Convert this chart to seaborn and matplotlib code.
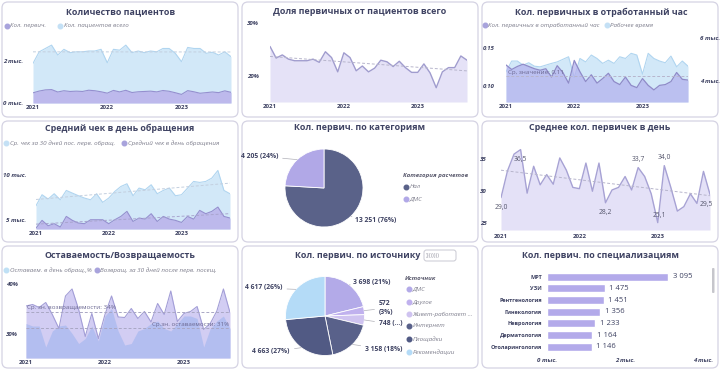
import matplotlib
matplotlib.use("Agg")
import matplotlib.pyplot as plt
import seaborn as sns
import numpy as np
from matplotlib.patches import FancyBboxPatch
from matplotlib.transforms import IdentityTransform
from matplotlib.lines import Line2D

# === Data ===
years = ["2021", "2022", "2023"]

# Количество пациентов
patients_total = [1890, 2440, 2600, 2760, 2290, 2560, 2400, 2440, 2440, 2480, 2480, 2560,
                  1920, 2560, 2520, 2760, 2400, 2480, 2400, 2480, 2440, 2600, 2600, 2370,
                  1970, 2650, 2600, 2600, 2370, 2420, 2290, 2440, 2210]
patients_first = [485, 570, 625, 640, 525, 585, 550, 565, 550, 610, 585, 535,
                  470, 600, 530, 605, 500, 535, 550, 565, 530, 595, 560, 490,
                  410, 590, 535, 465, 495, 525, 495, 580, 510]

# Доля первичных, %
first_share = [25.6, 23.4, 24.0, 23.2, 22.9, 22.9, 22.9, 23.2, 22.6, 24.6, 23.5, 20.8,
               24.4, 23.5, 21.0, 21.9, 20.8, 21.5, 23.0, 22.7, 21.8, 22.8, 21.6, 20.7,
               20.7, 22.3, 20.6, 17.8, 20.8, 21.6, 21.6, 23.8, 23.0]

# Кол. первичных в отработанный час / рабочее время
first_per_hour = [0.128, 0.122, 0.126, 0.129, 0.126, 0.123, 0.121, 0.123, 0.112, 0.127, 0.118, 0.104,
                  0.134, 0.119, 0.106, 0.115, 0.104, 0.110, 0.117, 0.106, 0.102, 0.112, 0.101, 0.098,
                  0.110, 0.101, 0.095, 0.101, 0.102, 0.106, 0.118, 0.109, 0.108]
work_hours = [4440, 4940, 4940, 4750, 4860, 4700, 4670, 4750, 4830, 4900, 5020, 5140,
              4170, 5060, 4900, 5220, 5060, 4830, 4980, 4830, 5140, 5060, 5300, 5220,
              4330, 5300, 5060, 4940, 4860, 5170, 4670, 4940, 4700]

# Средний чек
check_30d = [6560, 7780, 7300, 7890, 7220, 8260, 7960, 7670, 7410, 7220, 7890, 6930,
             7410, 8150, 8700, 9000, 7670, 8520, 8330, 8890, 7890, 8260, 8520, 7670,
             7780, 8520, 9260, 9150, 9260, 9630, 10480, 8260, 7890]
check_day = [4070, 4930, 4330, 4560, 4190, 5370, 4930, 4630, 4560, 5000, 5000, 5000,
             4560, 5000, 5370, 5930, 4810, 5190, 5070, 5670, 4810, 5370, 5070, 4930,
             4700, 5370, 5070, 6040, 5670, 5930, 6410, 5370, 5190]

# Среднее кол. первичек в день
first_per_day = [29.0, 33.2, 35.8, 36.5, 29.7, 33.9, 31.0, 32.6, 31.1, 35.2, 33.3, 30.6,
                 30.4, 34.4, 30.0, 34.4, 28.2, 30.2, 30.6, 32.3, 30.2, 33.7, 32.3, 29.6,
                 25.1, 34.0, 30.6, 26.9, 27.6, 29.6, 28.1, 33.1, 29.5]
labelled_days = [0, 3, 16, 21, 24, 25, 32]

# Оставаемость / Возвращаемость, %
return_30d = [35.5, 35.8, 35.2, 36.2, 33.8, 31.0, 37.5, 38.9, 34.8, 29.4, 34.0, 29.0,
              33.8, 37.5, 33.3, 33.2, 35.0, 33.0, 34.4, 32.3, 36.0, 33.8, 38.5, 32.4,
              34.0, 34.4, 35.4, 30.8, 32.0, 34.5, 38.9, 34.2]
stay_day = [32.0, 31.5, 31.5, 27.3, 30.5, 31.5, 31.7, 30.0, 28.0, 29.0, 31.5, 28.5,
            33.5, 35.0, 30.5, 27.7, 28.0, 30.5, 31.0, 32.0, 32.5, 31.0, 30.5, 32.0,
            33.5, 33.5, 33.0, 27.3, 31.0, 32.5, 33.5, 31.0]

# Кол. первич. по категориям
pay_labels = ["Нал", "ДМС"]
pay_values = [13251, 4205]

# Кол. первич. по источнику
source_labels = ["ДМС", "Другое", "Живет-работает ...", "Интернет", "Площадки", "Рекомендации"]
source_values = [3698, 572, 748, 3158, 4663, 4617]

# Кол. первич. по специализациям
spec_labels = ["МРТ", "УЗИ", "Рентгенология", "Гинекология", "Неврология", "Дерматология",
               "Отоларингология"]
spec_values = [3095, 1475, 1451, 1356, 1233, 1164, 1146]

# === Style ===
sns.set_theme(style="white")
plt.rcParams["font.family"] = ["Open Sans", "DejaVu Sans"]

TITLE = "#3e4262"
TICK = "#3e4262"
LEG = "#7d7d8c"
BORDER = "#d5d3e3"
BLUE_FILL, BLUE_LINE = "#d2e8f8", "#b0d5f0"
PURP_FILL, PURP_LINE = "#bdb9ec", "#958fcf"
DARK = "#5a6289"
LAV = "#b1a8e7"
LBLUE = "#b4dbf7"
TREND = "#b7b5cc"
TS = 4.4   # tick label size
LS = 4.5   # legend text size

W, H = 720, 370
fig = plt.figure(figsize=(7.2, 3.7), dpi=100)
fig.patch.set_facecolor("white")


def ax_px(x0, y0, x1, y1):
    ax = fig.add_axes([x0 / W, 1 - y1 / H, (x1 - x0) / W, (y1 - y0) / H])
    ax.set_facecolor("none")
    return ax


def panel(x0, y0, x1, y1, title, tx=None, ty=10):
    box = FancyBboxPatch((x0, H - y1), x1 - x0, y1 - y0,
                         boxstyle="round,pad=0,rounding_size=6",
                         transform=IdentityTransform(), fc="white", ec=BORDER, lw=0.9, zorder=-5)
    fig.patches.append(box)
    cx = (x0 + x1) / 2 if tx is None else tx
    fig.text(cx / W, 1 - (y0 + ty) / H, title, ha="center", va="center",
             fontsize=6.4, fontweight="bold", color=TITLE)


def dot_label(x, y, color, text, size=LS):
    fig.add_artist(Line2D([x / W], [1 - y / H], marker="o", ms=3.3, color=color, ls="",
                          transform=fig.transFigure))
    fig.text((x + 3.5) / W, 1 - y / H, text, ha="left", va="center", fontsize=size,
             style="italic", color=LEG)


def style_ts(ax, n, yticks, ylabels, pad_y=7, pad_x=1.5):
    sns.despine(ax=ax, left=True, bottom=True)
    ax.set_xlim(0, n - 1)
    ax.set_xticks([0, 12, 24])
    ax.set_xticklabels(years, fontweight="bold")
    ax.set_yticks(yticks)
    ax.set_yticklabels(ylabels, fontweight="bold", style="italic")
    ax.tick_params(axis="x", length=0, labelsize=TS, pad=pad_x, colors=TICK)
    ax.tick_params(axis="y", length=0, labelsize=TS, pad=pad_y, colors=TICK)
    ax.set_xlabel("")
    ax.set_ylabel("")
    ax.grid(False)


def area(ax, y, fill, line, lw=0.8, bottom=None, alpha=1.0):
    x = np.arange(len(y))
    b = ax.get_ylim()[0] if bottom is None else bottom
    ax.fill_between(x, y, b, color=fill, alpha=alpha, lw=0)
    sns.lineplot(x=x, y=y, ax=ax, color=line, lw=lw)


def trend(ax, y, color=TREND):
    x = np.arange(len(y))
    sns.regplot(x=x, y=np.array(y, dtype=float), ax=ax, scatter=False, ci=None, truncate=True,
                line_kws=dict(ls=(0, (3, 2)), lw=0.7, color=color))


# === Panel frames ===
panel(2, 2, 238, 117, "Количество пациентов", tx=121)
panel(242, 2, 478, 117, "Доля первичных от пациентов всего", tx=360)
panel(482, 2, 718, 117, "Кол. первичных в отработанный час", tx=601)
panel(2, 121, 238, 242, "Средний чек в день обращения", tx=120, ty=7)
panel(242, 121, 478, 242, "Кол. первич. по категориям", tx=360, ty=7)
panel(482, 121, 718, 242, "Среднее кол. первичек в день", tx=600, ty=7)
panel(2, 246, 238, 368, "Оставаемость/Возвращаемость", tx=120, ty=9)
panel(242, 246, 478, 368, "Кол. первич. по источнику", tx=358, ty=9)
panel(482, 246, 718, 368, "Кол. первич. по специализациям", tx=600, ty=9)

# === 1. Количество пациентов ===
ax1 = ax_px(33, 38, 231, 103)
ax1.set_ylim(0, 3100)
area(ax1, patients_total, BLUE_FILL, BLUE_LINE, bottom=0)
trend(ax1, patients_total, color="#c3cfdf")
area(ax1, patients_first, PURP_FILL, PURP_LINE, bottom=0)
ax1.set_ylim(0, 3100)
style_ts(ax1, len(patients_total), [0, 2000], ["0 тыс.", "2 тыс."], pad_y=7)
dot_label(7, 26, "#a8a3dc", "Кол. первич.")
dot_label(60, 26, "#c4e0f5", "Кол. пациентов всего")

# === 2. Доля первичных ===
ax2 = ax_px(270, 20, 467, 102)
ax2.set_ylim(15.1, 30.6)
area(ax2, first_share, "#e5e2f7", "#a09cce", lw=1.0)
trend(ax2, first_share)
ax2.set_ylim(15.1, 30.6)
style_ts(ax2, len(first_share), [20, 30], ["20%", "30%"], pad_y=8)

# === 3. Кол. первичных в отработанный час ===
ax3 = ax_px(506, 35, 688, 102)
ax3.set_ylim(3030, 6155)
area(ax3, work_hours, BLUE_FILL, BLUE_LINE)
ax3.set_ylim(3030, 6155)
ax3b = ax3.twinx()
ax3b.set_facecolor("none")
ax3b.set_ylim(0.079, 0.1676)
area(ax3b, first_per_hour, "#b4b3ee", "#8f8ac8", lw=0.9, alpha=0.75)
mean_fph = np.mean(first_per_hour)
ax3b.axhline(mean_fph, color=TREND, ls=(0, (3, 2)), lw=0.7)
ax3b.text(0.3, mean_fph + 0.002, f"Ср. значение: {mean_fph:.2f}".replace(".", ","),
          fontsize=LS, color="#6b6892", va="bottom", ha="left")
ax3b.set_ylim(0.079, 0.1676)
style_ts(ax3b, len(first_per_hour), [0.10, 0.15], ["0,10", "0,15"], pad_y=8)
ax3b.yaxis.tick_left()
ax3b.tick_params(axis="x", labelbottom=False)
style_ts(ax3, len(work_hours), [4000, 6000], ["4 тыс.", "6 тыс."], pad_y=9)
ax3.yaxis.tick_right()
ax3.tick_params(axis="y", length=0, pad=9)
dot_label(485, 25, "#a8a3dc", "Кол. первичных в отработанный час")
dot_label(607, 25, "#c4e0f5", "Рабочее время")

# === 4. Средний чек ===
ax4 = ax_px(36, 155, 230, 229)
ax4.set_ylim(3970, 12200)
area(ax4, check_30d, BLUE_FILL, BLUE_LINE)
trend(ax4, check_30d, color="#c3cfdf")
area(ax4, check_day, PURP_FILL, PURP_LINE)
trend(ax4, check_day, color="#a9a5cf")
ax4.set_ylim(3970, 12200)
style_ts(ax4, len(check_30d), [5000, 10000], ["5 тыс.", "10 тыс."], pad_y=7)
dot_label(6, 143, "#c4e0f5", "Ср. чек за 30 дней пос. перв. обращ.")
dot_label(124, 143, "#a8a3dc", "Средний чек в день обращения")

# === 5. Кол. первич. по категориям ===
ax5 = ax_px(285, 149, 363, 227)
w5, _ = ax5.pie(pay_values, colors=[DARK, LAV], startangle=90, counterclock=False,
                wedgeprops=dict(edgecolor="white", linewidth=0.6))
ax5.set_xlim(-1, 1)
ax5.set_ylim(-1, 1)
pay_text = [(0.80, -0.84, "left"), (-1.18, 0.82, "right")]
total_pay = sum(pay_values)
for wdg, v, (tx, ty, ha) in zip(w5, pay_values, pay_text):
    ang = np.deg2rad((wdg.theta1 + wdg.theta2) / 2)
    txt = f"{v:,}".replace(",", " ") + f" ({v / total_pay:.0%})"
    ax5.annotate(txt, xy=(np.cos(ang), np.sin(ang)), xytext=(tx, ty), ha=ha, va="center",
                 fontsize=4.9, fontweight="bold", color=TICK, annotation_clip=False,
                 arrowprops=dict(arrowstyle="-", color="#b0b0b8", lw=0.5, shrinkA=1, shrinkB=0))
fig.text(403 / W, 1 - 176 / H, "Категория расчетов", fontsize=4.4, fontweight="bold",
         style="italic", color="#5b5b6e", va="center")
dot_label(406, 187, DARK, pay_labels[0])
dot_label(406, 199, LAV, pay_labels[1])

# === 6. Среднее кол. первичек в день ===
ax6 = ax_px(501, 140, 710, 230)
ax6.set_ylim(23.95, 38.0)
area(ax6, first_per_day, "#e4e1f7", "#a7a2d4", lw=1.0)
trend(ax6, first_per_day)
ax6.set_ylim(23.95, 38.0)
style_ts(ax6, len(first_per_day), [25, 30, 35], ["25", "30", "35"], pad_y=10, pad_x=3)
label_offsets = {0: (0, -7), 3: (0, -7), 16: (0, -7), 21: (0, 6), 24: (1, 5), 25: (0, 6), 32: (-3, -7)}
for i in labelled_days:
    dx, dy = label_offsets[i]
    ax6.annotate(f"{first_per_day[i]:.1f}".replace(".", ","), (i, first_per_day[i]),
                 xytext=(dx, dy), textcoords="offset points", ha="center", va="center",
                 fontsize=4.9, color="#55566c")

# === 7. Оставаемость / Возвращаемость ===
ax7 = ax_px(26, 278, 230, 358)
ax7.set_ylim(25.1, 41.1)
area(ax7, return_30d, "#d2cdf3", "#a39ed7", lw=0.8)
x7 = np.arange(len(stay_day))
ax7.fill_between(x7, stay_day, 25.1, color="#aebcf0", alpha=0.85, lw=0)
m_ret = np.mean(return_30d)
m_stay = np.mean(stay_day)
ax7.axhline(m_ret, color="#a9a7c4", ls=(0, (3, 2)), lw=0.7)
ax7.axhline(m_stay, color="#a9a7c4", ls=(0, (3, 2)), lw=0.7)
ax7.text(0.2, m_ret + 0.3, f"Ср. зн. возвращаемости: {m_ret:.0f}%", fontsize=LS,
         color="#6b6892", va="bottom", ha="left")
ax7.text(len(stay_day) - 1.2, m_stay + 0.3, f"Ср.зн. оставаемости: {m_stay:.0f}%", fontsize=LS,
         color="#6b6892", va="bottom", ha="right")
ax7.set_ylim(25.1, 41.1)
style_ts(ax7, len(return_30d), [30, 40], ["30%", "40%"], pad_y=6)
dot_label(6, 270, "#bfe0f5", "Оставаем. в день обращ.,%")
dot_label(97, 270, "#a8a3dc", "Возвращ. за 30 дней после перв. посещ.")

# === 8. Кол. первич. по источнику ===
ax8 = ax_px(285.5, 276.5, 364.5, 355.5)
src_colors = ["#b3aae8", "#c0b1ee", "#cfc3f0", "#59618a", "#515a84", LBLUE]
w8, _ = ax8.pie(source_values, colors=src_colors, startangle=90, counterclock=False,
                wedgeprops=dict(edgecolor="white", linewidth=0.6))
ax8.set_xlim(-1, 1)
ax8.set_ylim(-1, 1)
total_src = sum(source_values)
src_text = [(0.72, 0.86, "left"), (1.37, 0.20, "left"), (1.37, -0.20, "left"),
            (1.02, -0.84, "left"), (-0.89, -0.91, "right"), (-1.08, 0.71, "right")]
for k, (wdg, v, (tx, ty, ha)) in enumerate(zip(w8, source_values, src_text)):
    ang = np.deg2rad((wdg.theta1 + wdg.theta2) / 2)
    num = f"{v:,}".replace(",", " ")
    pct = f"({v / total_src:.0%})"
    if k == 1:
        txt = f"{num}\n{pct}"
    elif k == 2:
        txt = f"{num} (...)"
    else:
        txt = f"{num} {pct}"
    ax8.annotate(txt, xy=(np.cos(ang), np.sin(ang)), xytext=(tx, ty), ha=ha, va="center",
                 fontsize=4.9, fontweight="bold", color=TICK, annotation_clip=False,
                 linespacing=1.5,
                 arrowprops=dict(arrowstyle="-", color="#b0b0b8", lw=0.5, shrinkA=1, shrinkB=0))
fig.text(405 / W, 1 - 278 / H, "Источник", fontsize=4.4, fontweight="bold",
         style="italic", color="#5b5b6e", va="center")
for lab, col, yy in zip(source_labels, src_colors, [289, 302, 314, 326, 339, 352]):
    dot_label(409, yy, col, lab)
knob = FancyBboxPatch((424, H - 261), 32, 11, boxstyle="round,pad=0,rounding_size=2.5",
                      transform=IdentityTransform(), fc="white", ec="#c9c9d2", lw=0.7)
fig.patches.append(knob)
fig.text(426 / W, 1 - 255.5 / H, "))))))))", fontsize=4.2, color="#9a9aa6", va="center")

# === 9. Кол. первич. по специализациям ===
ax9 = ax_px(546.7, 270.9, 703.5, 352.5)
sns.barplot(x=spec_values, y=spec_labels, orient="h", color="#b3aaea", width=0.68,
            saturation=1, ax=ax9)
ax9.bar_label(ax9.containers[0], labels=[f"{v:,}".replace(",", " ") for v in spec_values],
              padding=3.5, fontsize=5.5, color=TICK)
ax9.set_xlim(0, 4000)
ax9.set_xticks([0, 2000, 4000])
ax9.set_xticklabels(["0 тыс.", "2 тыс.", "4 тыс."], fontweight="bold", style="italic")
ax9.set_yticks(range(len(spec_labels)))
ax9.set_yticklabels(spec_labels, fontweight="bold")
ax9.tick_params(axis="x", length=0, labelsize=TS, pad=4, colors=TICK)
ax9.tick_params(axis="y", length=0, labelsize=4.0, pad=3.5, colors=TICK)
ax9.set_xlabel("")
ax9.set_ylabel("")
sns.despine(ax=ax9, left=True, bottom=True)
scroll = FancyBboxPatch((712, H - 293), 2.5, 25, boxstyle="round,pad=0,rounding_size=1",
                        transform=IdentityTransform(), fc="#c6c6cc", ec="none")
fig.patches.append(scroll)

fig.savefig("out.png", dpi=100, facecolor="white")
